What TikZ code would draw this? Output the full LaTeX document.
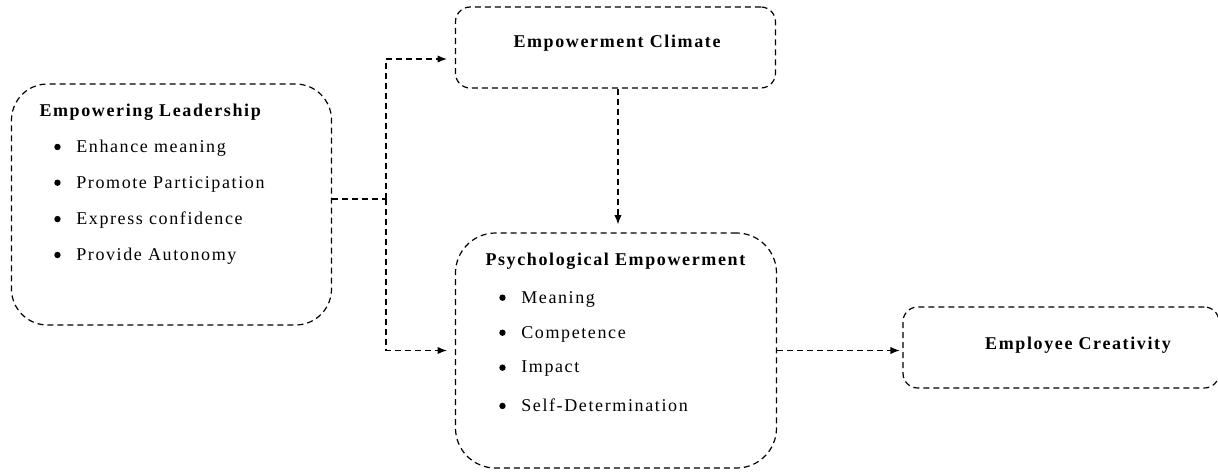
\documentclass[tikz,border=0pt]{standalone}
\usepackage{fontspec}
\setmainfont{Liberation Serif}[LetterSpace=9]
\usetikzlibrary{arrows.meta}

\tikzset{every picture/.style={line width=0.75pt}}
\tikzset{
  dashbox/.style={draw, dash pattern=on 4.5pt off 3pt, line width=0.9pt, inner sep=0pt},
  dashlink/.style={draw, dash pattern=on 4.5pt off 3pt, line width=0.9pt},
  dasharrow/.style={dashlink, -{Latex[length=7pt,width=5.5pt]}},
  boxtitle/.style={inner sep=0.75pt, font=\fontsize{13.5}{15}\selectfont\bfseries},
  boxitem/.style={anchor=west, inner sep=0.75pt, font=\fontsize{13.5}{15}\selectfont},
}
\newcommand{\itembullet}[1]{\makebox[16.5pt][l]{\tikz[baseline={(0,-4pt)}]\fill (0,0) circle (2.4pt);}#1}

\begin{document}
\begin{tikzpicture}[x=0.75pt,y=0.75pt,yscale=-1,xscale=1]
%set diagram left start at 0, and has height of 472
\useasboundingbox (0,0) rectangle (1218,472);

%Shape: Rounded Rect [id:lead] 
\node [dashbox, rounded corners=27pt, minimum width=240pt, minimum height=180.75pt] (lead) at (171.5,204.5) {};
%Shape: Rounded Rect [id:climate] 
\node [dashbox, rounded corners=11pt, minimum width=240pt, minimum height=60.75pt] (climate) at (615.5,47.5) {};
%Shape: Rounded Rect [id:psych] 
\node [dashbox, rounded corners=30pt, minimum width=240.75pt, minimum height=176.25pt] (psych) at (616,350.5) {};
%Shape: Rounded Rect [id:creat] 
\node [dashbox, rounded corners=11pt, minimum width=237pt, minimum height=60.75pt] (creat) at (1061,347.5) {};

% Text Node
\node [boxtitle, anchor=west] (leadtitle) at (38,112) {Empowering Leadership};
% Text Node
\node [boxitem] (lead1) at (53,148) {\itembullet{Enhance meaning}};
% Text Node
\node [boxitem] (lead2) at (53,184) {\itembullet{Promote Participation}};
% Text Node
\node [boxitem] (lead3) at (53,220) {\itembullet{Express confidence}};
% Text Node
\node [boxitem] (lead4) at (53,256) {\itembullet{Provide Autonomy}};

% Text Node
\node [boxtitle] (climatetitle) at (617,43) {Empowerment Climate};

% Text Node
\node [boxtitle, anchor=west] (psychtitle) at (484,261) {Psychological Empowerment};
% Text Node
\node [boxitem] (psych1) at (498,299) {\itembullet{Meaning}};
% Text Node
\node [boxitem] (psych2) at (498,334) {\itembullet{Competence}};
% Text Node
\node [boxitem] (psych3) at (498,369) {\itembullet{Impact}};
% Text Node
\node [boxitem] (psych4) at (498,405) {\itembullet{Self-Determination}};

% Text Node
\node [boxtitle] (creattitle) at (1078,345) {Employee Creativity};

%Straight Lines [id:split] 
\coordinate (split) at (386,199);
\draw [dashlink] (lead.east |- split) -- (split);
\draw [dasharrow] (split) |- ([xshift=-6pt]climate.west |- 0,59);
\draw [dasharrow] (split) |- ([xshift=-6pt]psych.west);
%Straight Lines [id:climate-psych] 
\draw [dasharrow] (climate.south -| 618,0) -- ([yshift=-6pt]psych.north -| 618,0);
%Straight Lines [id:psych-creat] 
\draw [dasharrow] (psych.east) -- ([xshift=-2pt]creat.west |- psych.east);

\end{tikzpicture}
\end{document}
